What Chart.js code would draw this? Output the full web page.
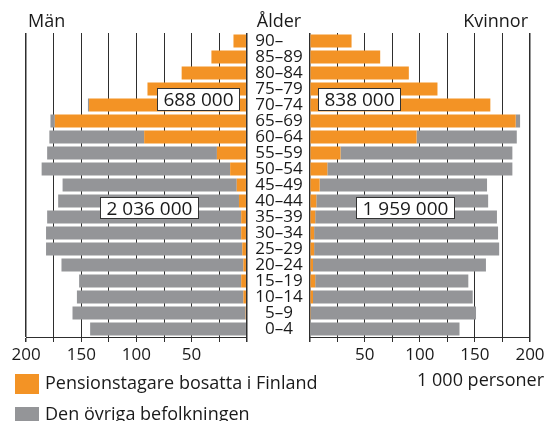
<!DOCTYPE html>
<html>
<head>
<meta charset="utf-8">
<script src="https://cdn.jsdelivr.net/npm/chart.js@4.4.1/dist/chart.umd.min.js"></script>
<style>
body{margin:0;background:#fff}
#wrap{position:relative;width:548px;height:421px;overflow:hidden;font-family:'Open Sans',sans-serif;color:#1a1a1a}
canvas{position:absolute;top:0}
.t{position:absolute;font-size:18px;line-height:18px;white-space:nowrap}
.box{position:absolute;background:#fff;border:1.5px solid #333;box-sizing:border-box;font-size:19px;line-height:19px;display:flex;align-items:center;justify-content:center}
.sq{position:absolute;width:24px;height:20px}
</style>
</head>
<body>
<div id="wrap">
<canvas id="graficoMan" width="260" height="421" style="left:0"></canvas>
<canvas id="graficoKvinnor" width="300" height="421" style="left:248px"></canvas>

<div class="t" style="left:28px;top:11px">Män</div>
<div class="t" style="left:249px;top:11px;width:60px;text-align:center">Ålder</div>
<div class="t" style="right:20px;top:11px">Kvinnor</div>

<div class="box" style="left:157px;top:88px;width:83px;height:23px" id="tot0"></div>
<div class="box" style="left:318px;top:88px;width:83px;height:23px" id="tot1"></div>
<div class="box" style="left:100px;top:197px;width:99px;height:22px" id="tot2"></div>
<div class="box" style="left:356px;top:197px;width:99px;height:22px" id="tot3"></div>

<div class="sq" style="left:15px;top:374px;background:#f39325"></div>
<div class="t" style="left:45px;top:373px" id="leg0"></div>
<div class="sq" style="left:15px;top:407px;background:#949598"></div>
<div class="t" style="left:45px;top:404px" id="leg1"></div>
<div class="t" style="right:4px;top:370px">1 000 personer</div>
</div>

<script>
const ORANGE='#f39325'
const GRAY='#949598'
const FONT="'Open Sans', sans-serif"

const aldrar=['90–','85–89','80–84','75–79','70–74','65–69','60–64','55–59','50–54','45–49','40–44','35–39','30–34','25–29','20–24','15–19','10–14','5–9','0–4']

const serier=['Pensionstagare bosatta i Finland','Den övriga befolkningen']

// 1 000 personer
const manPension=[12,32,59,90,143,174,93,27,15,9,7,5,5,4,3,5,3,1,0]
const manOvriga=[0,0,0,0,1,4,86,154,171,158,164,176,177,178,165,147,151,157,142]
const kvinnorPension=[38,64,90,116,164,187,97,28,16,9,6,5,4,4,3,5,3,1,0]
const kvinnorOvriga=[0,0,0,0,0,4,91,156,168,152,156,165,167,168,157,139,145,150,136]

const totaler=['688 000','838 000','2 036 000','1 959 000']

totaler.forEach((t,i)=>{
document.getElementById('tot'+i).textContent=t
})
document.getElementById('leg0').textContent=serier[0]
document.getElementById('leg1').textContent=serier[1]

Chart.defaults.font.family=FONT
Chart.defaults.color='#1a1a1a'

// aldersetiketter linjerade pa strecket
function fmtAlder(l){
let[a,b]=l.split('–')
return '\u2007'.repeat(2-a.length)+a+'–'+b+'\u2007'.repeat(2-b.length)
}

function xSkala(omvand){
return{
stacked:true,
reverse:omvand,
min:0,
max:200,
ticks:{
stepSize:25,
autoSkip:false,
maxRotation:0,
padding:3,
color:'#1a1a1a',
font:{size:17},
callback:v=>(v%50||v==0)?'':v
},
grid:{
color:'#2e2e2e',
tickLength:5,
lineWidth:c=>(c.tick&&(c.tick.value==0||c.tick.value==200))?1.5:1
},
border:{display:true,color:'#2e2e2e',width:1},
afterFit:s=>{s.height=84}
}
}

function dataset(etikett,data,farg){
return{
label:etikett,
data:data,
backgroundColor:farg,
categoryPercentage:1,
barPercentage:0.8
}
}

new Chart(document.getElementById('graficoMan'),{
type:'bar',
data:{
labels:aldrar,
datasets:[
dataset(serier[0],manPension,ORANGE),
dataset(serier[1],manOvriga,GRAY)
]
},
options:{
indexAxis:'y',
responsive:false,
animation:false,
layout:{padding:{left:26.2,right:13.3,top:33,bottom:0}},
plugins:{legend:{display:false},tooltip:{enabled:false}},
scales:{
x:xSkala(true),
y:{stacked:true,display:false}
}
}
})

new Chart(document.getElementById('graficoKvinnor'),{
type:'bar',
data:{
labels:aldrar,
datasets:[
dataset(serier[0],kvinnorPension,ORANGE),
dataset(serier[1],kvinnorOvriga,GRAY)
]
},
options:{
indexAxis:'y',
responsive:false,
animation:false,
layout:{padding:{left:0,right:18,top:33,bottom:0}},
plugins:{legend:{display:false},tooltip:{enabled:false}},
scales:{
x:xSkala(false),
y:{
stacked:true,
position:'left',
grid:{display:false,drawTicks:false},
border:{display:false},
ticks:{
autoSkip:false,
padding:7,
crossAlign:'center',
color:'#1a1a1a',
font:{size:17},
callback:(v,i)=>fmtAlder(aldrar[i])
},
afterFit:s=>{s.width=61.7}
}
}
}
})
</script>
</body>
</html>
